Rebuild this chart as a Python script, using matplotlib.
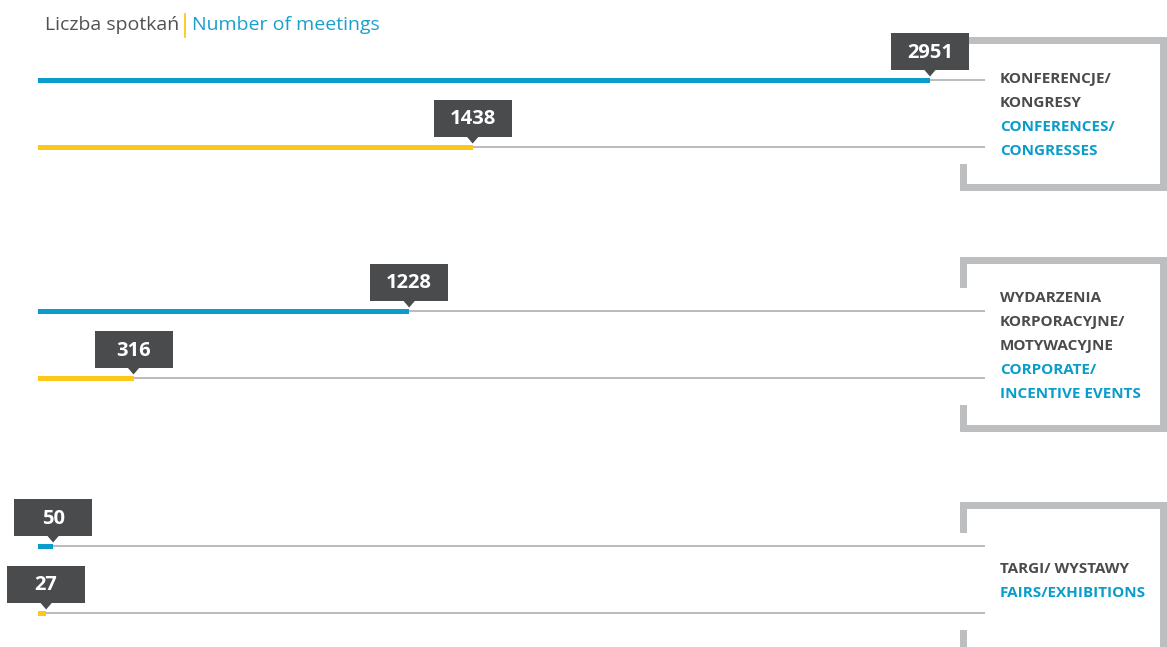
import matplotlib
matplotlib.use("Agg")
import matplotlib.pyplot as plt
from matplotlib.patches import Rectangle, Polygon

# data
groups_pl = [["KONFERENCJE/", "KONGRESY"],
             ["WYDARZENIA", "KORPORACYJNE/", "MOTYWACYJNE"],
             ["TARGI/ WYSTAWY"]]
groups_en = [["CONFERENCES/", "CONGRESSES"],
             ["CORPORATE/", "INCENTIVE EVENTS"],
             ["FAIRS/EXHIBITIONS"]]
values_blue = [2951, 1228, 50]
values_yellow = [1438, 316, 27]

BLUE = "#0a9dcc"
YELLOW = "#fdc817"
DARK = "#4a4b4d"
GRAY = "#bdbec0"
LINE = "#b4b5b7"

W, H = 1167, 647
x0 = 38           # pixel where value 0 sits
k = 892 / 2951    # pixels per unit

fig = plt.figure(figsize=(W / 100, H / 100), dpi=100)
ax = fig.add_axes([0, 0, 1, 1])
ax.set_xlim(-x0 / k, (W - x0) / k)
ax.set_ylim(H, 0)
ax.axis("off")

def dx(px):
    # pixel x -> data x
    return (px - x0) / k

plt.rcParams["font.family"] = ["Open Sans", "DejaVu Sans"]

# title
t1 = ax.text(dx(45), 25, "Liczba spotkań ", fontsize=14, color="#505153",
             va="center", ha="left")
fig.canvas.draw()
bb = t1.get_window_extent()
xe = bb.x1
ax.plot([dx(xe + 1), dx(xe + 1)], [14, 37], color=YELLOW, lw=1.3)
ax.text(dx(xe + 8), 25, "Number of meetings", fontsize=14, color="#1a9fcf",
        va="center", ha="left")

centers = [113.5, 344.5, 579.5]
br_heights = [154, 175, 155]
gap = 67

def label_box(v, y):
    xc = v
    bw = 78 / k
    ax.add_patch(Rectangle((xc - bw / 2, y - 47), bw, 37, color=DARK, zorder=5, lw=0))
    ax.add_patch(Polygon([(xc - 6 / k, y - 10.5), (xc + 6 / k, y - 10.5), (xc, y - 3.5)],
                         closed=True, color=DARK, zorder=5, lw=0))
    ax.text(xc, y - 22.5, str(v), color="white", fontsize=14.5, fontweight="bold",
            ha="center", va="baseline", zorder=6)

for i, c in enumerate(centers):
    yb = c - gap / 2
    yy = c + gap / 2
    for y, v, col in [(yb, values_blue[i], BLUE), (yy, values_yellow[i], YELLOW)]:
        ax.plot([0, dx(985)], [y, y], color=LINE, lw=1.3, zorder=2, solid_capstyle="butt")
        ax.barh(y, v, height=5, left=0, color=col, zorder=3)
        label_box(v, y)

    # bracket
    h = br_heights[i]
    top = c - h / 2
    bot = c + h / 2
    t = 7
    for (px, py, pw, ph) in [(960, top, 207, t), (1160, top, 7, h),
                             (960, bot - t, 207, t), (960, top, t, 31),
                             (960, bot - 27, t, 27)]:
        ax.add_patch(Rectangle((dx(px), py), pw / k, ph, color=GRAY, lw=0, zorder=1))

    # labels
    lines = [(s, DARK) for s in groups_pl[i]] + [(s, BLUE) for s in groups_en[i]]
    n = len(lines)
    for j, (s, col) in enumerate(lines):
        ly = c + (j - (n - 1) / 2) * 24
        ax.text(dx(1000), ly + 5.5, s, color=col, fontsize=11, fontweight="bold",
                ha="left", va="baseline", zorder=4)

fig.savefig("out.png", dpi=100)
